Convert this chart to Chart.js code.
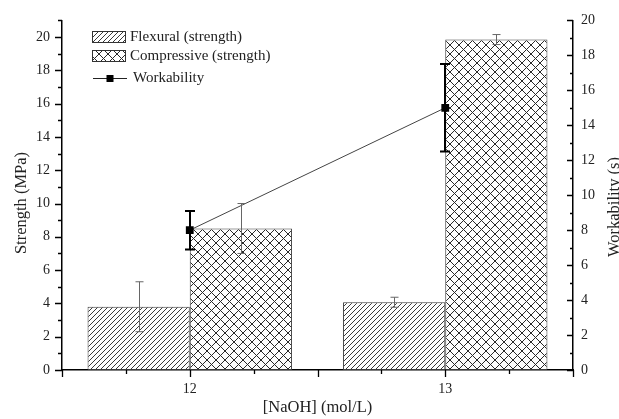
<!DOCTYPE html>
<html>
<head>
<meta charset="utf-8">
<script src="https://cdn.jsdelivr.net/npm/chart.js@4/dist/chart.umd.min.js"></script>
<style>
  html, body { margin: 0; padding: 0; background: #fff; }
  #c { display: block; }
</style>
</head>
<body>
<canvas id="c" width="619" height="419"></canvas>
<script>
// ---- data ----
const categories = [12, 13];                 // [NaOH] (mol/L)
const flexural = [3.8, 4.07];                // MPa
const flexuralErr = [1.5, 0.3];
const compressive = [8.5, 19.85];            // MPa
const compressiveErr = [1.5, 0.3];
const workability = [8, 15];                 // s
const workabilityErr = [1.1, 2.5];
const strengthTicks = [0, 2, 4, 6, 8, 10, 12, 14, 16, 18, 20];
const workTicks = [0, 2, 4, 6, 8, 10, 12, 14, 16, 18, 20];

const SERIF = "'Liberation Serif', 'Times New Roman', serif";
Chart.defaults.font.family = SERIF;
Chart.defaults.color = '#222';

function hatchPattern() {
  const s = 5, c = document.createElement('canvas');
  c.width = s; c.height = s;
  const g = c.getContext('2d');
  g.fillStyle = '#fff'; g.fillRect(0, 0, s, s);
  g.strokeStyle = '#3a3a3a'; g.lineWidth = 1;
  g.beginPath();
  g.moveTo(-1, s + 1); g.lineTo(s + 1, -1);
  g.moveTo(-1, 1); g.lineTo(1, -1);
  g.moveTo(s - 1, s + 1); g.lineTo(s + 1, s - 1);
  g.stroke();
  return g.createPattern(c, 'repeat');
}
function crossPattern() {
  const s = 9, c = document.createElement('canvas');
  c.width = s; c.height = s;
  const g = c.getContext('2d');
  g.fillStyle = '#fff'; g.fillRect(0, 0, s, s);
  g.strokeStyle = '#2a2a2a'; g.lineWidth = 1;
  g.beginPath();
  g.moveTo(-1, -1); g.lineTo(s + 1, s + 1);
  g.moveTo(-1, s + 1); g.lineTo(s + 1, -1);
  g.stroke();
  return g.createPattern(c, 'repeat');
}
const pat1 = hatchPattern();
const pat2 = crossPattern();

const toXY = (vals) => categories.map((c, i) => ({ x: c, y: vals[i] }));

const errorBars = {
  id: 'errorBars',
  afterDatasetsDraw(chart) {
    const ctx = chart.ctx;
    chart.data.datasets.forEach((ds, di) => {
      if (!ds.errors) return;
      const meta = chart.getDatasetMeta(di);
      const sc = chart.scales[ds.yAxisID];
      ctx.save();
      ctx.strokeStyle = ds.errColor;
      ctx.lineWidth = ds.errWidth;
      meta.data.forEach((el, i) => {
        const v = ds.data[i].y, e = ds.errors[i];
        const x = Math.round(el.x) + (ds.errWidth % 2 ? 0.5 : 0);
        const yt = sc.getPixelForValue(v + e), yb = sc.getPixelForValue(v - e);
        const cap = ds.errCap;
        ctx.beginPath();
        ctx.moveTo(x, yt); ctx.lineTo(x, yb);
        ctx.moveTo(x - cap, yt); ctx.lineTo(x + cap, yt);
        ctx.moveTo(x - cap, yb); ctx.lineTo(x + cap, yb);
        ctx.stroke();
      });
      ctx.restore();
    });
  }
};

const decorations = {
  id: 'decorations',
  afterDraw(chart) {
    const ctx = chart.ctx;
    const { x, y, y2 } = chart.scales;
    const a = chart.chartArea;
    ctx.save();
    ctx.strokeStyle = '#000';
    ctx.lineWidth = 1.3;
    ctx.beginPath();
    // x ticks (outward, down)
    for (let k = 0; k <= 8; k++) {
      const v = 11.5 + k * 0.25;
      const px = Math.round(x.getPixelForValue(v)) + 0.5;
      ctx.moveTo(px, a.bottom);
      ctx.lineTo(px, a.bottom + (k % 2 === 0 ? 7 : 4));
    }
    // left ticks (outward)
    for (let v = 0; v <= 21; v++) {
      const py = Math.round(y.getPixelForValue(v)) + 0.5;
      ctx.moveTo(a.left, py);
      ctx.lineTo(a.left - (v % 2 === 0 ? 7 : 4), py);
    }
    // right ticks (inward)
    for (let v = 0; v <= 20; v++) {
      const py = Math.round(y2.getPixelForValue(v)) + 0.5;
      ctx.moveTo(a.right, py);
      ctx.lineTo(a.right - (v % 2 === 0 ? 6 : 3), py);
    }
    ctx.stroke();

    // axis titles (rotated, bottom-to-top)
    ctx.fillStyle = '#222';
    ctx.font = '16.5px ' + SERIF;
    ctx.textAlign = 'center';
    ctx.textBaseline = 'middle';
    ctx.save();
    ctx.translate(22, 203);
    ctx.rotate(-Math.PI / 2);
    ctx.fillText('Strength (MPa)', 0, 0);
    ctx.restore();
    ctx.save();
    ctx.translate(615, 207);
    ctx.rotate(-Math.PI / 2);
    ctx.fillText('Workability (s)', 0, 0);
    ctx.restore();

    // legend
    const ds = chart.data.datasets;
    ctx.font = '15px ' + SERIF;
    ctx.textAlign = 'left';
    ctx.textBaseline = 'middle';
    const rows = [
      { box: ds[0], y: 31 },
      { box: ds[1], y: 50 }
    ];
    rows.forEach(r => {
      ctx.fillStyle = r.box.backgroundColor;
      ctx.fillRect(92, r.y, 34, 12);
      ctx.strokeStyle = '#333';
      ctx.lineWidth = 1;
      ctx.strokeRect(92.5, r.y + 0.5, 33, 11);
      ctx.fillStyle = '#222';
      ctx.fillText(r.box.label, 130, r.y + 6.5);
    });
    ctx.strokeStyle = '#222';
    ctx.lineWidth = 1;
    ctx.beginPath();
    ctx.moveTo(93, 78.5); ctx.lineTo(127, 78.5);
    ctx.stroke();
    ctx.fillStyle = '#000';
    ctx.fillRect(106.5, 75, 7, 7);
    ctx.fillStyle = '#222';
    ctx.fillText(ds[2].label, 133, 78.5);
    ctx.restore();
  }
};

new Chart(document.getElementById('c'), {
  type: 'bar',
  data: {
    datasets: [
      {
        type: 'bar', label: 'Flexural (strength)', data: toXY(flexural), yAxisID: 'y',
        backgroundColor: pat1, borderColor: '#3a3a3a', borderWidth: 1, borderSkipped: false,
        errors: flexuralErr, errColor: '#666', errWidth: 1, errCap: 4, order: 2
      },
      {
        type: 'bar', label: 'Compressive (strength)', data: toXY(compressive), yAxisID: 'y',
        backgroundColor: pat2, borderColor: '#3a3a3a', borderWidth: 1, borderSkipped: false,
        errors: compressiveErr, errColor: '#666', errWidth: 1, errCap: 4, order: 2
      },
      {
        type: 'line', label: 'Workability', data: toXY(workability), yAxisID: 'y2',
        borderColor: '#444', borderWidth: 1, pointStyle: 'rect', pointRadius: 5.5,
        pointBackgroundColor: '#000', pointBorderColor: '#000', pointBorderWidth: 0,
        fill: false, tension: 0,
        errors: workabilityErr, errColor: '#000', errWidth: 2, errCap: 5, order: 0
      }
    ]
  },
  options: {
    responsive: false,
    animation: false,
    devicePixelRatio: 1,
    layout: { padding: { top: 12, left: 0, right: 0, bottom: 0 } },
    datasets: { bar: { categoryPercentage: 0.8, barPercentage: 1.0, grouped: true } },
    plugins: { legend: { display: false }, tooltip: { enabled: false } },
    scales: {
      x: {
        type: 'linear', min: 11.5, max: 13.5, offset: false,
        grid: { display: false, drawTicks: false, offset: false },
        border: { display: true, color: '#000', width: 1.5 },
        afterBuildTicks: (s) => { s.ticks = categories.map(v => ({ value: v })); },
        afterFit: (s) => { s.height = 49; },
        ticks: { font: { size: 14 }, padding: 11, autoSkip: false, maxRotation: 0 },
        title: { display: true, text: '[NaOH] (mol/L)', font: { size: 16.5 }, padding: { top: 0, bottom: 1 }, color: '#222' }
      },
      y: {
        type: 'linear', position: 'left', min: 0, max: 21,
        grid: { display: false, drawTicks: false },
        border: { display: true, color: '#000', width: 1.5 },
        afterBuildTicks: (s) => { s.ticks = strengthTicks.map(v => ({ value: v })); },
        afterFit: (s) => { s.width = 62; },
        ticks: { font: { size: 14 }, padding: 12, autoSkip: false }
      },
      y2: {
        type: 'linear', position: 'right', min: 0, max: 20,
        grid: { display: false, drawTicks: false },
        border: { display: true, color: '#000', width: 1.5 },
        afterBuildTicks: (s) => { s.ticks = workTicks.map(v => ({ value: v })); },
        afterFit: (s) => { s.width = 46; },
        ticks: { font: { size: 14 }, padding: 8, autoSkip: false }
      }
    }
  },
  plugins: [errorBars, decorations]
});
</script>
</body>
</html>
